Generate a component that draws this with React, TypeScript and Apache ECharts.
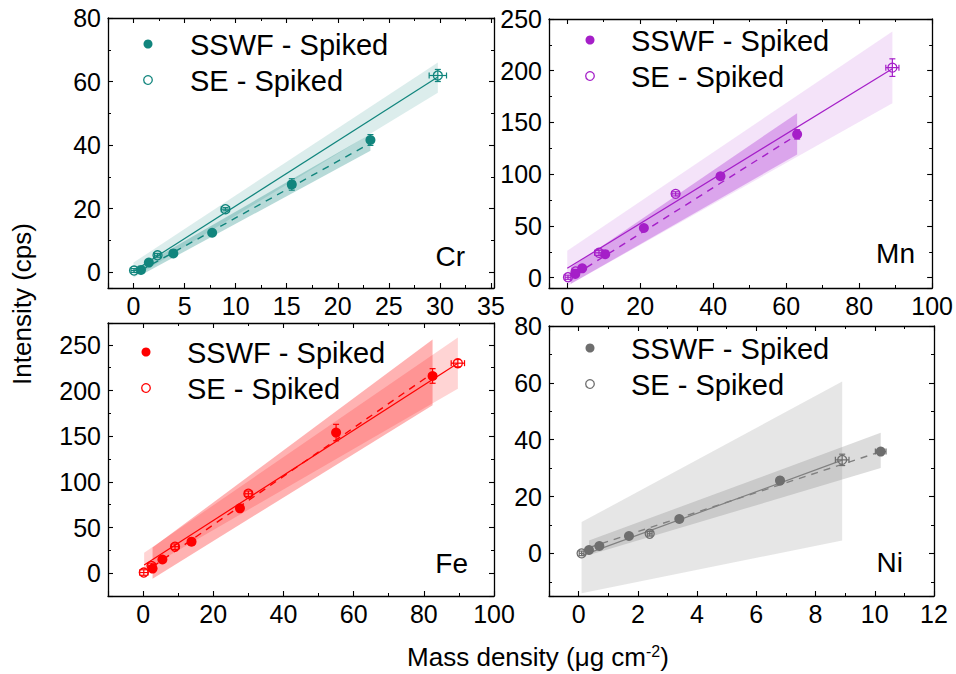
import React, { useEffect, useRef } from 'react';
import * as echarts from 'echarts';

// ---------- Cr ----------
const crSswfX = [0.73, 1.5, 3.9, 7.7, 15.5, 23.2];
const crSswfY = [0.7, 3.0, 5.9, 12.4, 27.6, 41.6];
const crSswfXErr = [0.05, 0.08, 0.15, 0.25, 0.35, 0.3];
const crSswfYErr = [0.3, 0.4, 0.6, 0.8, 1.8, 1.7];
const crSeX = [0.05, 2.35, 9.0, 29.8];
const crSeY = [0.5, 5.3, 19.8, 61.9];
const crSeXErr = [0.3, 0.3, 0.4, 0.85];
const crSeYErr = [0.6, 0.6, 0.5, 1.9];
const crSswfFit = [[0.7, 0.5], [23.2, 40.6]];
const crSeFit = [[0, 0.3], [29.8, 61.4]];
const crSswfBand = [[0.7, -1.0, 1.8], [23.2, 38.2, 43.5]];
const crSeBand = [[0, -1.8, 3.0], [29.8, 56.5, 66.0]];

// ---------- Mn ----------
const mnSswfX = [2.2, 4.1, 10.4, 21, 42, 63];
const mnSswfY = [3.5, 9, 22.7, 48, 98, 138.5];
const mnSswfXErr = [0.3, 0.3, 0.5, 0.6, 0.9, 0.9];
const mnSswfYErr = [1, 1.5, 2, 2.5, 3, 4.5];
const mnSeX = [0.2, 2.3, 8.7, 29.7, 89.1];
const mnSeY = [0.4, 6, 24, 81, 203];
const mnSeXErr = [0.8, 0.8, 1.2, 1, 1.8];
const mnSeYErr = [2, 2, 2.5, 2, 8.5];
const mnSswfFit = [[2.2, 3], [63, 138]];
const mnSeFit = [[0, 9], [89.1, 202]];
const mnSswfBand = [[1, -6, 10], [63, 119, 159]];
const mnSeBand = [[0, -8, 26], [89.1, 168.5, 238]];

// ---------- Fe ----------
const feSswfX = [2.7, 5.5, 13.8, 27.6, 55, 82.5];
const feSswfY = [5, 15, 34.5, 71, 154, 216];
const feSswfXErr = [0.2, 0.2, 0.4, 0.6, 0.8, 0.9];
const feSswfYErr = [1.5, 2, 2.5, 3, 9, 8];
const feSeX = [0.2, 2.4, 9.1, 30, 89.7];
const feSeY = [0.7, 8, 29, 87, 230];
const feSeXErr = [1.2, 1, 1, 1, 1.9];
const feSeYErr = [3, 3, 3, 3, 4];
const feSswfFit = [[2.7, 7], [82.5, 219]];
const feSeFit = [[0.3, 9], [89.7, 230]];
const feSswfBand = [[2.7, -6, 28], [82.5, 184, 256]];
const feSeBand = [[0.3, 3.5, 22.5], [89.7, 202, 258]];

// ---------- Ni ----------
const niSswfX = [0.35, 0.7, 1.7, 3.4, 6.8, 10.2];
const niSswfY = [1.2, 2.6, 6.1, 12.1, 25.6, 35.8];
const niSswfXErr = [0.03, 0.04, 0.06, 0.08, 0.12, 0.18];
const niSswfYErr = [0.5, 0.6, 0.8, 1, 1.2, 1];
const niSeX = [0.1, 2.4, 8.9];
const niSeY = [0, 6.9, 32.9];
const niSeXErr = [0.08, 0.08, 0.23];
const niSeYErr = [0.8, 0.8, 2];
const niSswfFit = [[0.35, 2.0], [10.2, 35.8]];
const niSeFit = [[0.1, -0.8], [8.9, 32.8]];
const niSswfBand = [[0.35, -0.6, 4.5], [10.2, 30, 42.4]];
const niSeBand = [[0.1, -14, 11], [8.9, 4.5, 60.5]];

// ---------- axes ----------
const crXRange = [-2.5, 35.3]; const crXStep = 5;
const crYRange = [-5, 80]; const crYStep = 20;
const mnXRange = [-5, 100]; const mnXStep = 20;
const mnYRange = [-10, 250]; const mnYStep = 50;
const feXRange = [-10, 100]; const feXStep = 20;
const feYRange = [-25, 274]; const feYStep = 50;
const niXRange = [-1, 12]; const niXStep = 2;
const niYRange = [-15, 80]; const niYStep = 20;

const legendLabels = ['SSWF - Spiked', 'SE - Spiked'];
const elementNames = ['Cr', 'Mn', 'Fe', 'Ni'];
const yTitle = 'Intensity (cps)';

const FONT = '"Liberation Sans", Arial, Helvetica, sans-serif';

const panels = [
  {
    el: 'Cr', color: '#11857d', light: 'rgba(17,133,125,0.15)', dark: 'rgba(17,133,125,0.30)',
    grid: { left: 108, top: 18, width: 386, height: 270 },
    xr: crXRange, xs: crXStep, yr: crYRange, ys: crYStep,
    sswf: [crSswfX, crSswfY, crSswfXErr, crSswfYErr], se: [crSeX, crSeY, crSeXErr, crSeYErr],
    sswfFit: crSswfFit, seFit: crSeFit, sswfBand: crSswfBand, seBand: crSeBand,
    legend: { cx: 148, cy: 44, gap: 36, tx: 190 }, label: { x: 465, y: 256 },
  },
  {
    el: 'Mn', color: '#a51fc8', light: 'rgba(170,40,210,0.13)', dark: 'rgba(170,40,210,0.33)',
    grid: { left: 549, top: 19, width: 385, height: 269 },
    xr: mnXRange, xs: mnXStep, yr: mnYRange, ys: mnYStep,
    sswf: [mnSswfX, mnSswfY, mnSswfXErr, mnSswfYErr], se: [mnSeX, mnSeY, mnSeXErr, mnSeYErr],
    sswfFit: mnSswfFit, seFit: mnSeFit, sswfBand: mnSswfBand, seBand: mnSeBand,
    legend: { cx: 590, cy: 40, gap: 36, tx: 631 }, label: { x: 915, y: 253 },
  },
  {
    el: 'Fe', color: '#ff0000', light: 'rgba(255,0,0,0.17)', dark: 'rgba(255,0,0,0.30)',
    grid: { left: 108, top: 323, width: 386, height: 273 },
    xr: feXRange, xs: feXStep, yr: feYRange, ys: feYStep,
    sswf: [feSswfX, feSswfY, feSswfXErr, feSswfYErr], se: [feSeX, feSeY, feSeXErr, feSeYErr],
    sswfFit: feSswfFit, seFit: feSeFit, sswfBand: feSswfBand, seBand: feSeBand,
    legend: { cx: 146, cy: 352, gap: 36, tx: 187 }, label: { x: 468, y: 563 },
  },
  {
    el: 'Ni', color: '#6e6e6e', light: 'rgba(128,128,128,0.2)', dark: 'rgba(128,128,128,0.28)',
    grid: { left: 549, top: 326, width: 385, height: 270 },
    xr: niXRange, xs: niXStep, yr: niYRange, ys: niYStep,
    sswf: [niSswfX, niSswfY, niSswfXErr, niSswfYErr], se: [niSeX, niSeY, niSeXErr, niSeYErr],
    sswfFit: niSswfFit, seFit: niSeFit, sswfBand: niSswfBand, seBand: niSeBand,
    legend: { cx: 590, cy: 348, gap: 36, tx: 631 }, label: { x: 903, y: 562 },
  },
];

function fmt(step: number) {
  return (v: number) => {
    const r = v / step;
    return Math.abs(r - Math.round(r)) < 1e-6 ? String(Math.round(v * 1000) / 1000) : '';
  };
}

function axis(gridIndex: number, range: number[], step: number, position: string, showLabel: boolean, isX: boolean) {
  return {
    type: 'value',
    gridIndex,
    position,
    min: range[0],
    max: range[1],
    minInterval: step,
    maxInterval: step,
    scale: true,
    axisLine: { show: true, onZero: false, lineStyle: { color: '#000', width: 1.3 } },
    axisTick: { show: true, inside: true, length: 5, lineStyle: { color: '#000', width: 1.1 } },
    minorTick: { show: true, splitNumber: 2, length: 3, lineStyle: { color: '#000', width: 1 } },
    splitLine: { show: false },
    axisLabel: {
      show: showLabel,
      formatter: fmt(step),
      fontSize: 25,
      fontFamily: FONT,
      color: '#000',
      margin: isX ? 5 : 7,
    },
  };
}

function bandItem(band: number[][]) {
  return [band[0][0], band[0][1], band[0][2], band[1][0], band[1][1], band[1][2]];
}

function bandSeries(i: number, band: number[][], fill: string) {
  return {
    type: 'custom',
    xAxisIndex: 2 * i,
    yAxisIndex: 2 * i,
    silent: true,
    z: 1,
    encode: { x: [0, 3], y: [1, 2, 4, 5] },
    data: [bandItem(band)],
    renderItem: (_p: any, api: any) => {
      const a = api.coord([api.value(0), api.value(1)]);
      const b = api.coord([api.value(3), api.value(4)]);
      const c = api.coord([api.value(3), api.value(5)]);
      const d = api.coord([api.value(0), api.value(2)]);
      return { type: 'polygon', shape: { points: [a, b, c, d] }, style: { fill } };
    },
  };
}

function errSeries(i: number, arr: number[][], color: string) {
  const data = arr[0].map((x, k) => [x, arr[1][k], arr[2][k], arr[3][k]]);
  return {
    type: 'custom',
    xAxisIndex: 2 * i,
    yAxisIndex: 2 * i,
    silent: true,
    z: 4,
    encode: { x: 0, y: 1 },
    data,
    renderItem: (_p: any, api: any) => {
      const x = api.value(0), y = api.value(1), xe = api.value(2), ye = api.value(3);
      const l = api.coord([x - xe, y]);
      const r = api.coord([x + xe, y]);
      const b = api.coord([x, y - ye]);
      const t = api.coord([x, y + ye]);
      const c = 3;
      const st = { stroke: color, lineWidth: 1.2 };
      return {
        type: 'group',
        children: [
          { type: 'line', shape: { x1: l[0], y1: l[1], x2: r[0], y2: r[1] }, style: st },
          { type: 'line', shape: { x1: b[0], y1: b[1], x2: t[0], y2: t[1] }, style: st },
          { type: 'line', shape: { x1: l[0], y1: l[1] - c, x2: l[0], y2: l[1] + c }, style: st },
          { type: 'line', shape: { x1: r[0], y1: r[1] - c, x2: r[0], y2: r[1] + c }, style: st },
          { type: 'line', shape: { x1: b[0] - c, y1: b[1], x2: b[0] + c, y2: b[1] }, style: st },
          { type: 'line', shape: { x1: t[0] - c, y1: t[1], x2: t[0] + c, y2: t[1] }, style: st },
        ],
      };
    },
  };
}

export default function App() {
  const ref = useRef<HTMLDivElement>(null);
  useEffect(() => {
    if (!ref.current) return;
    const chart = echarts.init(ref.current, null, { renderer: 'svg' });
    const grids: any[] = [];
    const xAxes: any[] = [];
    const yAxes: any[] = [];
    const series: any[] = [];
    const graphics: any[] = [];

    panels.forEach((p, i) => {
      grids.push({ ...p.grid, containLabel: false, show: false });
      xAxes.push(axis(i, p.xr, p.xs, 'bottom', true, true));
      xAxes.push(axis(i, p.xr, p.xs, 'top', false, true));
      yAxes.push(axis(i, p.yr, p.ys, 'left', true, false));
      yAxes.push(axis(i, p.yr, p.ys, 'right', false, false));
      const lineColor = p.el === 'Ni' ? '#808080' : p.color;

      series.push(bandSeries(i, p.seBand, p.light));
      series.push(bandSeries(i, p.sswfBand, p.dark));
      series.push({
        type: 'line', xAxisIndex: 2 * i, yAxisIndex: 2 * i, data: p.seFit, symbol: 'none', silent: true, z: 3,
        lineStyle: { color: lineColor, width: 1.2, type: 'solid' },
      });
      series.push({
        type: 'line', xAxisIndex: 2 * i, yAxisIndex: 2 * i, data: p.sswfFit, symbol: 'none', silent: true, z: 3,
        lineStyle: { color: lineColor, width: 1.4, type: [7, 6] },
      });
      series.push(errSeries(i, p.sswf, p.color));
      series.push(errSeries(i, p.se, p.color));
      series.push({
        name: p.el + ' ' + legendLabels[0], type: 'scatter', xAxisIndex: 2 * i, yAxisIndex: 2 * i, z: 5,
        symbol: 'circle', symbolSize: 10,
        data: p.sswf[0].map((x, k) => [x, p.sswf[1][k]]),
        itemStyle: { color: p.color, opacity: 1 },
      });
      series.push({
        name: p.el + ' ' + legendLabels[1], type: 'scatter', xAxisIndex: 2 * i, yAxisIndex: 2 * i, z: 5,
        symbol: 'circle', symbolSize: 9,
        data: p.se[0].map((x, k) => [x, p.se[1][k]]),
        itemStyle: { color: 'rgba(255,255,255,0)', borderColor: p.color, borderWidth: 1.3, opacity: 1 },
      });

      // legend (drawn as graphic for exact placement)
      const L = p.legend;
      graphics.push({
        type: 'circle', shape: { cx: L.cx, cy: L.cy, r: 4.5 }, style: { fill: p.color }, silent: true,
      });
      graphics.push({
        type: 'circle', shape: { cx: L.cx, cy: L.cy + L.gap, r: 4.3 },
        style: { fill: 'none', stroke: p.color, lineWidth: 1.3 }, silent: true,
      });
      legendLabels.forEach((t, k) => {
        graphics.push({
          type: 'text', x: L.tx, y: L.cy + k * L.gap + 1,
          style: {
            text: t, font: `29px ${FONT}`, fill: '#000',
            align: 'left', verticalAlign: 'middle', textAlign: 'left', textVerticalAlign: 'middle',
          },
        });
      });

      graphics.push({
        type: 'text',
        x: p.label.x,
        y: p.label.y,
        style: {
          text: elementNames[i],
          font: `28px ${FONT}`,
          fill: '#000',
          align: 'right',
          verticalAlign: 'middle',
          textAlign: 'right',
          textVerticalAlign: 'middle',
        },
      });
    });

    graphics.push({
      type: 'text',
      x: 22,
      y: 304,
      rotation: Math.PI / 2,
      style: {
        text: yTitle,
        font: `26px ${FONT}`,
        fill: '#000',
        align: 'center',
        verticalAlign: 'middle',
        textAlign: 'center',
        textVerticalAlign: 'middle',
      },
    });
    graphics.push({
      type: 'text',
      x: 538,
      y: 657,
      style: {
        text: '{a|Mass density (μg cm}{b|-2}{a|)}',
        rich: {
          a: { fontSize: 26, fontFamily: FONT, fill: '#000', color: '#000' },
          b: { fontSize: 16, fontFamily: FONT, fill: '#000', color: '#000', verticalAlign: 'top', padding: [0, 0, 12, 0] },
        },
        align: 'center',
        verticalAlign: 'middle',
        textAlign: 'center',
        textVerticalAlign: 'middle',
      },
    });

    chart.setOption({
      animation: false,
      backgroundColor: '#fff',
      grid: grids,
      xAxis: xAxes,
      yAxis: yAxes,
      series,
      graphic: graphics,
    });
    return () => chart.dispose();
  }, []);
  return <div ref={ref} style={{ position: 'fixed', left: 0, top: 0, width: 956, height: 674 }} />;
}
